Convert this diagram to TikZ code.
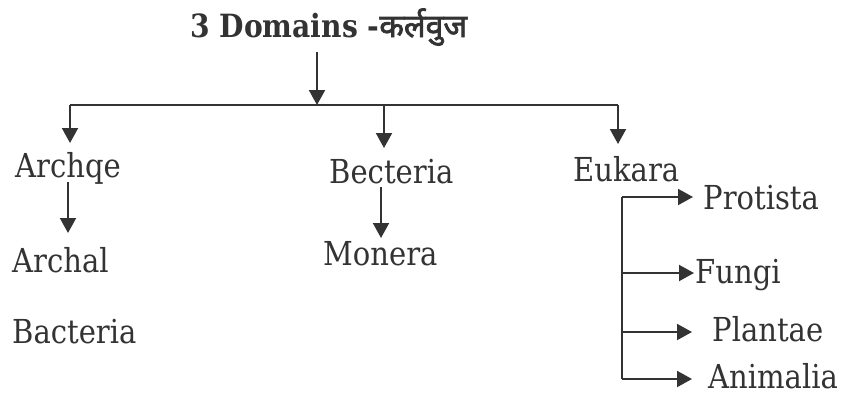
\documentclass[tikz,border=0pt]{standalone}
\usepackage{fontspec}
\setmainfont{DejaVu Serif}[FakeStretch=0.88]
\newfontfamily\deva[Script=Devanagari,FakeBold=2.2]{Noto Sans}
\usetikzlibrary{arrows.meta}
\definecolor{ink}{HTML}{333333}
\tikzset{
  lbl/.style={inner sep=0pt, anchor=base west, text=ink, font=\fontsize{33}{36}\selectfont},
  ttl/.style={inner sep=0pt, anchor=base west, text=ink, font=\fontsize{32}{36}\selectfont\bfseries},
  line/.style={draw=ink, line width=2pt},
  arr/.style={line, -{Triangle[width=16pt,length=15pt]}},
}
\begin{document}
\begin{tikzpicture}[x=1pt,y=-1pt]
\useasboundingbox (0,0) rectangle (848,394);
% nodes
\node[ttl] (title) at (190,37) {3 Domains -{\deva कर्लवुज}};
\node[lbl] (archqe) at (15,177) {Archqe};
\node[lbl] (archal) at (12,272) {Archal};
\node[lbl] (bacteria) at (12,343) {Bacteria};
\node[lbl] (becteria) at (329,183) {Becteria};
\node[lbl] (monera) at (323,265) {Monera};
\node[lbl] (eukara) at (573,181) {Eukara};
\node[lbl] (protista) at (703,209) {Protista};
\node[lbl] (fungi) at (695,283) {Fungi};
\node[lbl] (plantae) at (712,341) {Plantae};
\node[lbl] (animalia) at (708,388) {Animalia};
% bar
\coordinate (barL) at (70,105);
\coordinate (barM) at (317,105);
\coordinate (barC) at (384,105);
\coordinate (barR) at (618,105);
\draw[line] (barL) -- (barR);
\draw[arr] (barM |- 0,52) coordinate (tstart) -- (barM);
\draw[arr] (barL) -- (barL |- 0,143) coordinate (t1);
\draw[arr] (barC) -- (barC |- 0,148) coordinate (t2);
\draw[arr] (barR) -- (barR |- 0,144) coordinate (t3);
% sub arrows
\coordinate (s1) at (68,182);
\draw[arr] (s1) -- (s1 |- 0,233);
\coordinate (s2) at (381,187);
\draw[arr] (s2) -- (s2 |- 0,238);
% Eukara bracket
\coordinate (bk1) at (622,197);
\coordinate (bk2) at (622,273);
\coordinate (bk3) at (622,332);
\coordinate (bk4) at (622,379);
\draw[line] (bk1) -- (bk4);
\draw[arr] (bk1) -- (693,197);
\draw[arr] (bk2) -- (694,273);
\draw[arr] (bk3) -- (692,332);
\draw[arr] (bk4) -- (692,379);
\end{tikzpicture}
\end{document}
